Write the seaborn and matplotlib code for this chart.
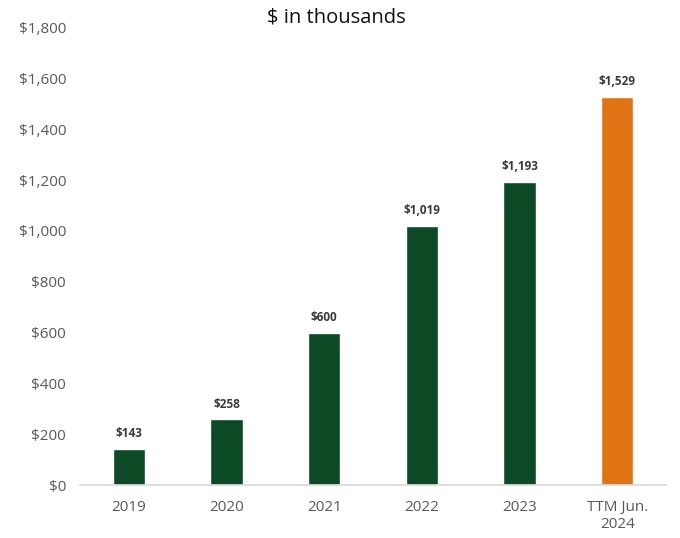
import matplotlib.pyplot as plt
import seaborn as sns
import pandas as pd

# 数据
categories = ['2019', '2020', '2021', '2022', '2023', 'TTM Jun.\n2024']
revenue = [143, 258, 600, 1019, 1193, 1529]
bar_colors = ['#0b4a24', '#0b4a24', '#0b4a24', '#0b4a24', '#0b4a24', '#e07412']
y_ticks = [0, 200, 400, 600, 800, 1000, 1200, 1400, 1600, 1800]

sns.set_theme(style="white")
plt.rcParams['font.family'] = ['Open Sans', 'DejaVu Sans']

df = pd.DataFrame({'category': categories, 'revenue': revenue})

fig = plt.figure(figsize=(6.8, 5.38), dpi=100)
ax = fig.add_axes([0.1176, 0.0985, 0.862, 0.85])

sns.barplot(data=df, x='category', y='revenue', hue='category',
            palette=bar_colors, width=0.33, legend=False, ax=ax, saturation=1)

ax.set_ylim(0, 1800)
ax.set_xlim(-0.5, 5.5)
ax.set_yticks(y_ticks)
ax.set_yticklabels([f'${v:,}' for v in y_ticks], color='#595959', fontsize=11)
ax.tick_params(axis='x', colors='#595959', labelsize=11, length=0, pad=11)
ax.tick_params(axis='y', length=0, pad=10)

ax.set_xlabel('')
ax.set_ylabel('')

for side in ['top', 'right', 'left']:
    ax.spines[side].set_visible(False)
ax.spines['bottom'].set_color('#d9d9d9')

# 数值标签
for i, v in enumerate(revenue):
    ax.text(i, v + 35, f'${v:,}', ha='center', va='bottom',
            fontsize=8.5, fontweight='bold', color='#3a3a3a')

fig.text(0.495, 0.967, '$ in thousands', ha='center', va='center',
         fontsize=14.5, color='#111111')

fig.savefig('out.png', dpi=100)
